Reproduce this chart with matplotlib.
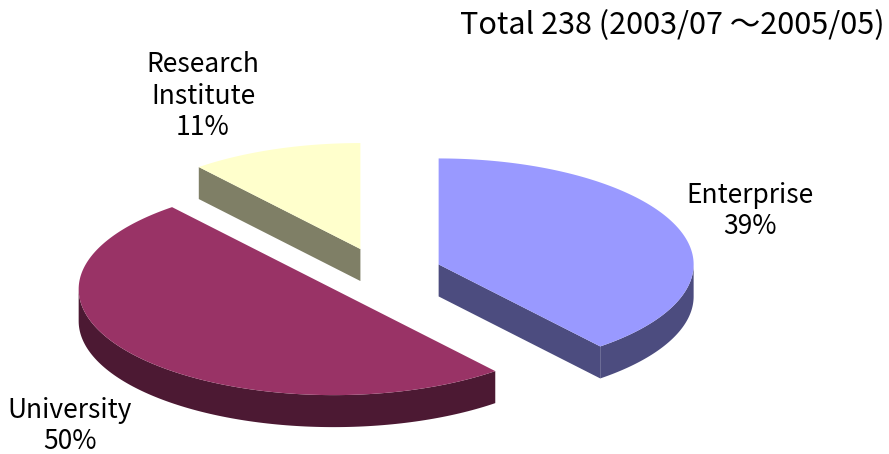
import numpy as np
import matplotlib.pyplot as plt
from matplotlib.patches import Polygon

plt.rcParams['font.family'] = ['Noto Sans CJK JP', 'DejaVu Sans']

labels = ['Enterprise', 'University', 'Research\nInstitute']
counts = [93, 119, 26]
top_colors = ['#9999FF', '#993366', '#FFFFCC']
side_colors = ['#4C4C7F', '#4C1933', '#7F7F66']
title = 'Total 238 (2003/07 \uff5e2005/05)'

# pie geometry in pixels (y grows downward)
cx, cy = 381, 273
a, b = 255, 106
depth = 32
explode = 0.24

fig = plt.figure(figsize=(8.89, 4.54), dpi=100)
ax = fig.add_axes([0, 0, 1, 1])
ax.set_xlim(0, 889)
ax.set_ylim(454, 0)
ax.axis('off')

total = sum(counts)
pct = [c / total * 100 for c in counts]
# clockwise from 12 o'clock
ends = 90 - np.cumsum([0] + [p * 3.6 for p in pct])


def pt(x0, y0, t, dy=0):
    r = np.radians(t)
    return x0 + a * np.cos(r), y0 - b * np.sin(r) + dy


slices = []
for i in range(len(counts)):
    t_start, t_end = ends[i], ends[i + 1]  # t_start > t_end
    mid = np.radians((t_start + t_end) / 2)
    sx = cx + explode * a * np.cos(mid)
    sy = cy - explode * b * np.sin(mid)
    slices.append((sx, sy, t_end, t_start, mid))

order = [2, 0, 1]
for i in order:
    sx, sy, t0, t1, mid = slices[i]
    # radial walls facing the viewer
    for t, sgn in ((t0, -1), (t1, 1)):
        normal = np.radians(t + sgn * 90)
        if np.sin(normal) < -1e-6:
            ex, ey = pt(sx, sy, t)
            poly = [(sx, sy), (ex, ey), (ex, ey + depth), (sx, sy + depth)]
            ax.add_patch(Polygon(poly, closed=True, fc=side_colors[i], ec='none'))
    # curved outer wall on the front half
    for k in (-1, 0, 1):
        lo = max(t0, -180 + 360 * k)
        hi = min(t1, 0 + 360 * k)
        if hi > lo:
            th = np.linspace(lo, hi, 120)
            topx, topy = pt(sx, sy, th)
            poly = np.column_stack([np.r_[topx, topx[::-1]],
                                    np.r_[topy, (topy + depth)[::-1]]])
            ax.add_patch(Polygon(poly, closed=True, fc=side_colors[i], ec='none'))
    # top face
    th = np.linspace(t0, t1, 200)
    ex, ey = pt(sx, sy, th)
    poly = np.column_stack([np.r_[sx, ex], np.r_[sy, ey]])
    ax.add_patch(Polygon(poly, closed=True, fc=top_colors[i], ec='none'))

label_pos = [(750, 211), (70, 426), (203, 96)]
for i, (x, y) in enumerate(label_pos):
    ax.text(x, y, f'{labels[i]}\n{pct[i]:.0f}%', ha='center', va='center',
            fontsize=19, linespacing=1.2)

ax.text(885, 26, title, ha='right', va='center', fontsize=22)

fig.savefig('out.png', dpi=100)
